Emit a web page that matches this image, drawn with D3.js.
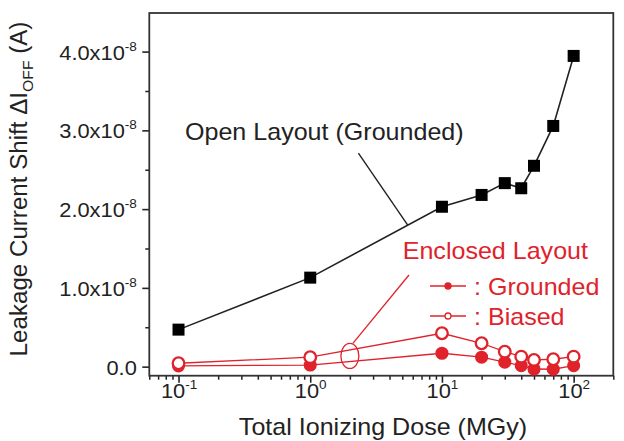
<!DOCTYPE html>
<html>
<head>
<meta charset="utf-8">
<script src="https://cdn.jsdelivr.net/npm/d3@7"></script>
<style>
  body { margin: 0; background: #fff; }
  text { font-family: "Liberation Sans", Arial, sans-serif; }
</style>
</head>
<body>
<div class="chart"></div>
<script>
// total ionizing dose (MGy)
const dose = [0.1, 1, 10, 20, 30, 40, 50, 70, 100];
// leakage current shift, in units of 1e-8 A
const openGrounded = [0.47, 1.13, 2.03, 2.18, 2.33, 2.265, 2.55, 3.056, 3.945];
const enclosedGrounded = [0.01, 0.02, 0.17, 0.12, 0.056, 0.013, -0.03, -0.033, 0.013];
const enclosedBiased = [0.043, 0.12, 0.424, 0.297, 0.19, 0.127, 0.085, 0.094, 0.127];

const xTicks = [0.1, 1, 10, 100];
const xTickExp = ["-1", "0", "1", "2"];
const yTicks = [0, 1, 2, 3, 4];
const yTickLabels = ["0.0", "1.0x10", "2.0x10", "3.0x10", "4.0x10"];

const width = 624;
const height = 441;
const plotLeft = 149.3, plotRight = 613.3, plotTop = 13, plotBottom = 375.7;
const red = "#e0222b";
const ink = "#222";
const stretch = 1.09; // the source lettering is a bit wider than Arial

const x = d3.scaleLog().domain([0.06, 200]).range([plotLeft, plotRight]);
const y = d3.scaleLinear().domain([-0.115, 4.49]).range([plotBottom, plotTop]);

const svg = d3.select(".chart")
  .append("svg")
  .attr("width", width)
  .attr("height", height);

// text placed at (tx, ty) and widened
const label = (tx, ty, str, color, anchor) =>
  svg.append("text")
    .attr("transform", `translate(${tx},${ty}) scale(${stretch},1)`)
    .attr("text-anchor", anchor || "start")
    .attr("font-size", 23)
    .attr("fill", color)
    .text(str);

// minor ticks
const xMinor = x.ticks().filter(v => !xTicks.some(t => Math.abs(t - v) / t < 1e-6));
svg.append("g")
  .attr("transform", `translate(0,${plotBottom})`)
  .call(d3.axisBottom(x).tickValues(xMinor).tickSize(4).tickSizeOuter(0).tickFormat(""))
  .call(g => g.select(".domain").remove())
  .selectAll("line").attr("stroke", ink).attr("stroke-width", 1.5);

svg.append("g")
  .attr("transform", `translate(${plotLeft},0)`)
  .call(d3.axisLeft(y).tickValues(d3.range(0.5, 4.5, 1)).tickSize(4).tickSizeOuter(0).tickFormat(""))
  .call(g => g.select(".domain").remove())
  .selectAll("line").attr("stroke", ink).attr("stroke-width", 1.5);

// major x ticks
const xAxis = svg.append("g")
  .attr("transform", `translate(0,${plotBottom})`)
  .call(d3.axisBottom(x).tickValues(xTicks).tickSize(7).tickSizeOuter(0))
  .call(g => g.select(".domain").remove());
xAxis.selectAll("line").attr("stroke", ink).attr("stroke-width", 1.6);
xAxis.selectAll("text")
  .attr("fill", ink)
  .attr("font-size", 21)
  .attr("font-family", "Liberation Sans, Arial, sans-serif")
  .attr("y", 22.5)
  .attr("dy", null)
  .attr("transform", "scale(1.04,1)")
  .text(null)
  .each(function (d, i) {
    const t = d3.select(this);
    t.append("tspan").text("10");
    t.append("tspan").attr("font-size", 13).attr("dy", -9).text(xTickExp[i]);
  });

// major y ticks
const yAxis = svg.append("g")
  .attr("transform", `translate(${plotLeft},0)`)
  .call(d3.axisLeft(y).tickValues(yTicks).tickSize(7).tickSizeOuter(0).tickPadding(5))
  .call(g => g.select(".domain").remove());
yAxis.selectAll("line").attr("stroke", ink).attr("stroke-width", 1.6);
yAxis.selectAll("text")
  .attr("fill", ink)
  .attr("font-size", 21)
  .attr("font-family", "Liberation Sans, Arial, sans-serif")
  .attr("dy", "0.36em")
  .attr("transform", "scale(1.04,1)")
  .text(null)
  .each(function (d, i) {
    const t = d3.select(this);
    t.append("tspan").text(yTickLabels[i]);
    if (d !== 0) t.append("tspan").attr("font-size", 13).attr("dy", -9).text("-8");
  });

// frame
svg.append("rect")
  .attr("x", plotLeft).attr("y", plotTop)
  .attr("width", plotRight - plotLeft).attr("height", plotBottom - plotTop)
  .attr("fill", "none").attr("stroke", "#333").attr("stroke-width", 1.8);

// axis titles
label(383, 435, "Total Ionizing Dose (MGy)", ink, "middle");

const yTitle = svg.append("text")
  .attr("transform", "translate(27,189) rotate(-90) scale(1.05,1)")
  .attr("text-anchor", "middle")
  .attr("font-size", 23)
  .attr("fill", ink);
yTitle.append("tspan").text("Leakage Current Shift \u0394I");
yTitle.append("tspan").attr("font-size", 15).attr("dy", 6).text("OFF");
yTitle.append("tspan").attr("dy", -6).text(" (A)");

const line = d3.line()
  .x(d => x(d[0]))
  .y(d => y(d[1]));

// annotations (behind data)
const openAt = 5.5;
const openAtVal = 1.13 + (2.03 - 1.13) * Math.log10(openAt);
svg.append("line")
  .attr("x1", x(2.32)).attr("y1", y(2.71))
  .attr("x2", x(openAt)).attr("y2", y(openAtVal))
  .attr("stroke", ink).attr("stroke-width", 1.4);

label(185, 139.5, "Open Layout (Grounded)", ink);

const ell = { cx: x(2), cy: y(0.136), rx: 9, ry: 12.5 };
svg.append("line")
  .attr("x1", ell.cx + 3).attr("y1", ell.cy - ell.ry)
  .attr("x2", x(5.62)).attr("y2", y(1.164))
  .attr("stroke", red).attr("stroke-width", 1.3);

// open layout series
const openPts = dose.map((d, i) => [d, openGrounded[i]]);
svg.append("path")
  .datum(openPts)
  .attr("d", line)
  .attr("fill", "none")
  .attr("stroke", ink)
  .attr("stroke-width", 1.6);
svg.append("g")
  .selectAll("rect")
  .data(openPts)
  .join("rect")
  .attr("x", d => x(d[0]) - 6)
  .attr("y", d => y(d[1]) - 6)
  .attr("width", 12).attr("height", 12)
  .attr("fill", "#000");

// enclosed layout series
const grdPts = dose.map((d, i) => [d, enclosedGrounded[i]]);
const biaPts = dose.map((d, i) => [d, enclosedBiased[i]]);
[grdPts, biaPts].forEach(pts => {
  svg.append("path")
    .datum(pts)
    .attr("d", line)
    .attr("fill", "none")
    .attr("stroke", red)
    .attr("stroke-width", 1.3);
});
svg.append("g")
  .selectAll("circle")
  .data(grdPts)
  .join("circle")
  .attr("cx", d => x(d[0])).attr("cy", d => y(d[1]))
  .attr("r", 5.8)
  .attr("fill", red).attr("stroke", red).attr("stroke-width", 1.5);
svg.append("g")
  .selectAll("circle")
  .data(biaPts)
  .join("circle")
  .attr("cx", d => x(d[0])).attr("cy", d => y(d[1]))
  .attr("r", 5.8)
  .attr("fill", "#fff").attr("stroke", red).attr("stroke-width", 2.3);

svg.append("ellipse")
  .attr("cx", ell.cx).attr("cy", ell.cy)
  .attr("rx", ell.rx).attr("ry", ell.ry)
  .attr("fill", "none").attr("stroke", red).attr("stroke-width", 1.3);

// enclosed legend
label(402.7, 259.3, "Enclosed Layout", red);

const legend = svg.append("g").attr("transform", "translate(430,286)");
const legendRows = [
  { label: ": Grounded", fill: red, dy: 0 },
  { label: ": Biased", fill: "#fff", dy: 30 }
];
legendRows.forEach(r => {
  const g = legend.append("g").attr("transform", `translate(0,${r.dy})`);
  g.append("line").attr("x1", 0).attr("x2", 36).attr("stroke", red).attr("stroke-width", 1.3);
  g.append("circle").attr("cx", 18).attr("r", 3).attr("fill", r.fill).attr("stroke", red).attr("stroke-width", 1.3);
  g.append("text")
    .attr("transform", `translate(44,8.5) scale(${stretch},1)`)
    .attr("font-size", 23).attr("fill", red).text(r.label);
});
</script>
</body>
</html>
